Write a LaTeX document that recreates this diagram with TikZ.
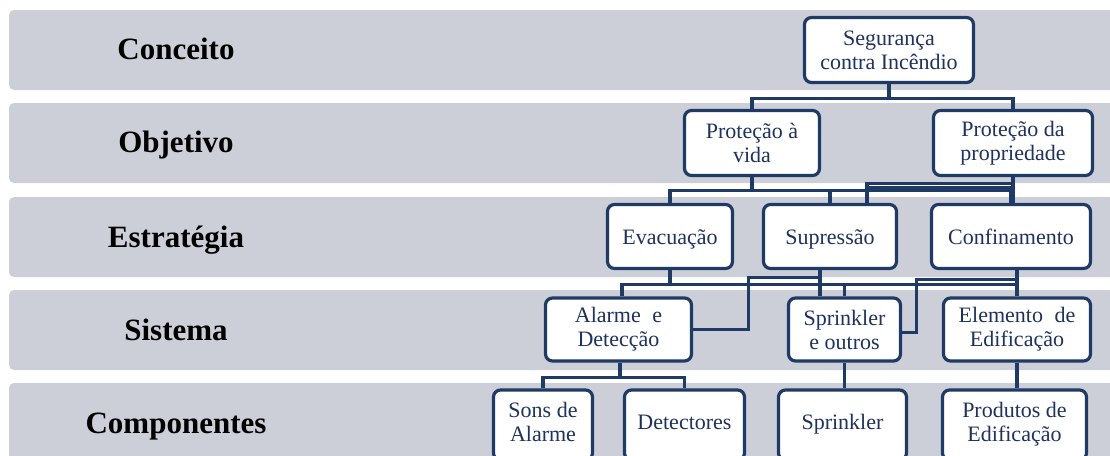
\documentclass[tikz,border=0pt]{standalone}
\usepackage{fontspec}
\setmainfont{Liberation Serif}
\usetikzlibrary{calc}
\definecolor{navy}{RGB}{31,58,100}
\definecolor{bandgray}{RGB}{204,207,216}
\definecolor{txtblue}{RGB}{30,50,92}
\newcommand{\liftup}[1]{\raisebox{0pt}[\height][\depth]{\begin{tabular}{@{}c@{}}#1\end{tabular}}}
\begin{document}
\begin{tikzpicture}[x=1pt,y=-1pt,
  band/.style={fill=bandgray, draw=none, rounded corners=5pt},
  lbl/.style={font=\fontsize{31}{34}\selectfont\bfseries, text=black, anchor=base},
  box/.style={draw=navy, line width=3.2pt, fill=white, rounded corners=7pt, align=center, inner sep=0pt, font=\fontsize{22}{24}\selectfont, text=txtblue},
  onebox/.style={box, text height=20.5pt, text depth=5pt},
  conn/.style={draw=navy, line width=3.2pt}]
\useasboundingbox (0,0) rectangle (1110,455);
\clip (0,0) rectangle (1110,455);
% bands
\fill[band] (9,10) rectangle (1130,90);
\fill[band] (9,103) rectangle (1130,183);
\fill[band] (9,197) rectangle (1130,277);
\fill[band] (9,290) rectangle (1130,370);
\fill[band] (9,383) rectangle (1130,480);
% labels
\node[lbl] (l1) at (176,59) {Conceito};
\node[lbl] (l2) at (176,152) {Objetivo};
\node[lbl] (l3) at (176,247) {Estratégia};
\node[lbl] (l4) at (176,340) {Sistema};
\node[lbl] (l5) at (176,433) {Componentes};
% boxes
\node[box, minimum width=169pt, minimum height=65pt] (seg) at (889,50) {Segurança\\contra Incêndio};
\node[box, minimum width=135pt, minimum height=65pt] (vida) at (752,143) {Proteção à\\vida};
\node[box, minimum width=159pt, minimum height=65pt] (prop) at (1013,143) {Proteção da\\propriedade};
\node[onebox, minimum width=125pt, minimum height=64pt] (evac) at (670,236.5) {Evacuação};
\node[onebox, minimum width=133pt, minimum height=64pt] (sup) at (830,236.5) {Supressão};
\node[onebox, minimum width=159pt, minimum height=64pt] (conf) at (1011,236.5) {Confinamento};
\node[box, minimum width=146pt, minimum height=63pt] (alarm) at (618.5,329.5) {Alarme\hspace{6pt} e\\Detecção};
\node[box, minimum width=112pt, minimum height=63pt] (sprout) at (844.5,329.5) {Sprinkler\\e outros};
\node[box, minimum width=147pt, minimum height=63pt] (elem) at (1017,329.5) {Elemento\hspace{6pt} de\\Edificação};
\node[box, minimum width=99pt, minimum height=70pt] (sons) at (543,425) {\liftup{Sons de\\Alarme}};
\node[onebox, minimum width=120pt, minimum height=70pt, text height=13pt, text depth=5pt] (det) at (684.5,425) {Detectores};
\node[onebox, minimum width=128pt, minimum height=70pt, text height=13pt, text depth=5pt] (spr) at (842.5,425) {Sprinkler};
\node[box, minimum width=144pt, minimum height=70pt] (prod) at (1014.5,425) {\liftup{Produtos de\\Edificação}};
% connectors: concept -> objectives
\draw[conn] (seg.south) -- ++(0,14) -| (vida.north);
\draw[conn] (seg.south) -- ++(0,14) -| (prop.north);
% objectives -> strategies
\draw[conn] (vida.south) -- ++(0,13.5) -| (evac.north);
\draw[conn] (vida.south) -- ++(0,13.5) -| (sup.north);
\draw[conn] (vida.south) -- ++(0,13.5) -| (conf.north);
\draw[conn] (prop.south) -- ++(0,6.5) -| ([xshift=37pt]sup.north);
\draw[conn] (prop.south) -- ++(0,10.5) -| ([xshift=37pt]sup.north);
\draw[conn] (prop.south) -- (prop.south |- conf.north);
% strategies -> systems
\draw[conn] (evac.south) -- ++(0,14.5) -| ([xshift=3.5pt]alarm.north);
\draw[conn] (evac.south) -- ++(0,14.5) -| (sprout.north);
\draw[conn] (evac.south) -- ++(0,14.5) -| (elem.north);
\draw[conn] ([xshift=-10pt]sup.south) -- ++(0,7.5) -| ([xshift=55.5pt]alarm.east) -- (alarm.east);
\draw[conn] ([xshift=-10pt]sup.south) -- ([xshift=-10pt]sup.south |- sprout.north);
\draw[conn] ([xshift=6pt]conf.south) -- ++(0,9.5) -| ([xshift=14.5pt,yshift=-3pt]sprout.east) -- ([yshift=-3pt]sprout.east);
\draw[conn] ([xshift=6pt]conf.south) -- (elem.north);
% systems -> components
\draw[conn] ([xshift=1.5pt]alarm.south) -- ++(0,15) -| (sons.north);
\draw[conn] ([xshift=1.5pt]alarm.south) -- ++(0,15) -| (det.north);
\draw[conn] (sprout.south) -- (sprout.south |- spr.north);
\draw[conn] (elem.south) -- (elem.south |- prod.north);
\end{tikzpicture}
\end{document}
